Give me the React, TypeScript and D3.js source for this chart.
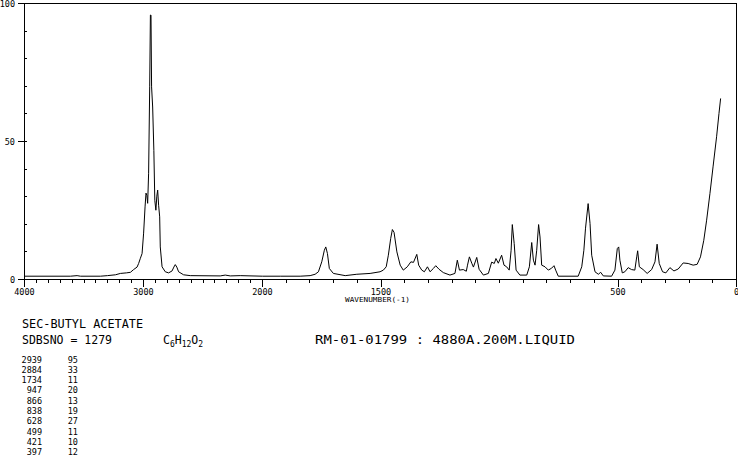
import React from 'react';
import * as d3 from 'd3';

// Raman spectrum
const wavenumbers = [
  4000, 3614, 3558, 3530, 3362, 3303, 3236, 3194, 3144, 3110, 3083, 3054, 3041, 3026, 3012,
  2999, 2987, 2979, 2972, 2965, 2957, 2948, 2942, 2937, 2932, 2923, 2913, 2905, 2896, 2888,
  2881, 2873, 2864, 2859, 2844, 2817, 2789, 2760, 2745, 2733, 2720, 2705, 2663, 2607, 2355,
  2313, 2271, 2187, 2000, 1925, 1841, 1799, 1778, 1764, 1750, 1739, 1733, 1726, 1718, 1701,
  1651, 1602, 1546, 1504, 1490, 1478, 1469, 1459, 1452, 1445, 1433, 1419, 1406, 1389, 1374,
  1363, 1349, 1341, 1328, 1317, 1304, 1293, 1279, 1269, 1255, 1237, 1209, 1188, 1178, 1169,
  1153, 1140, 1135, 1127, 1117, 1110, 1096, 1086, 1068, 1047, 1033, 1022, 1015, 1005, 991,
  981, 970, 959, 951, 946, 938, 930, 914, 885, 874, 864, 857, 850, 843, 835,
  829, 822, 808, 794, 780, 770, 763, 752, 668, 653, 644, 637, 626, 618, 611,
  597, 583, 573, 562, 527, 513, 503, 497, 492, 482, 471, 457, 443, 429, 421,
  417, 410, 394, 377, 358, 344, 335, 326, 312, 298, 281, 264, 246, 225, 204,
  183, 166, 152, 138, 126, 112, 99, 84, 74, 67,
];
const intensities = [
  1.2, 1.2, 1.4, 1.2, 1.2, 1.4, 1.7, 2.2, 2.4, 2.6, 3.6, 4.5, 5.8, 7.7, 9.4,
  16.8, 26.3, 31.3, 30.5, 27.6, 38.5, 69.8, 95.8, 95.8, 69.8, 62.5, 46.8, 28.7, 25.1, 30.2,
  32.4, 26.9, 22.7, 11.8, 4.6, 2.8, 2.4, 3.1, 4.5, 5.4, 4.5, 2.8, 1.7, 1.4, 1.3,
  1.6, 1.3, 1.4, 1.2, 1.2, 1.2, 1.4, 1.9, 2.8, 6.4, 10.6, 11.8, 9.4, 4.0, 2.2,
  1.4, 1.9, 2.2, 2.8, 3.4, 4.6, 8.8, 14.9, 18.1, 17.1, 10.0, 5.2, 3.4, 4.6, 6.4,
  6.2, 9.1, 5.2, 3.4, 2.8, 4.6, 2.8, 4.0, 5.0, 3.7, 2.5, 1.6, 2.2, 7.0, 3.4,
  3.6, 3.0, 5.2, 8.2, 5.9, 4.5, 8.0, 3.7, 1.6, 2.2, 6.3, 5.8, 7.6, 5.9, 8.8,
  5.2, 4.6, 3.4, 10.6, 19.9, 13.0, 3.4, 1.6, 1.6, 4.6, 13.4, 7.0, 5.2, 10.6, 19.9,
  15.4, 5.2, 4.6, 3.4, 4.1, 5.0, 3.4, 1.2, 1.2, 4.6, 10.6, 18.6, 27.5, 20.3, 8.8,
  2.8, 1.9, 2.6, 1.3, 1.2, 3.4, 11.2, 11.8, 7.0, 2.4, 2.8, 4.3, 3.6, 3.4, 8.2,
  10.4, 4.6, 3.6, 2.2, 3.6, 6.4, 12.8, 5.8, 2.8, 2.4, 4.3, 3.1, 3.8, 6.0, 5.8,
  5.2, 5.5, 8.2, 14.2, 21.5, 31.2, 40.8, 51.7, 60.1, 65.6,
];

const xMajor = [4000, 3000, 2000, 1500, 500, 0];
const xMinor = d3.range(0, 4001, 100);
const yMajor = [0, 50, 100];
const yMinor = d3.range(0, 101, 10);

const peakWavenumbers = ['2939', '2884', '1734', '947', '866', '838', '628', '499', '421', '397'];
const peakIntensities = ['95', '33', '11', '20', '13', '19', '27', '11', '10', '12'];

const W = 738;
const H = 457;
const mono = "'DejaVu Sans Mono', monospace";

const App: React.FC = () => {
  // the x axis is compressed by half above 2000
  const x = d3.scaleLinear().domain([4000, 2000, 0]).range([24.5, 262.5, 736.5]);
  const y = d3.scaleLinear().domain([0, 100]).range([279.5, 3.5]);

  const line = d3.line<number>()
    .x((_, i) => x(wavenumbers[i]))
    .y((d) => y(d));

  const [x0, x1] = [x(4000), x(0)];
  const [y0, y1] = [y(0), y(100)];

  return (
    <svg width={W} height={H} style={{ position: 'absolute', left: 0, top: 0, background: '#fff' }}>
      <rect x={0} y={0} width={W} height={H} fill="#fff" />

      {/* frame */}
      <path d={`M${x0},${y0}H${x1}V${y1}H${x0}Z`} fill="none" stroke="#000" strokeWidth={1} shapeRendering="crispEdges" />

      {/* x ticks */}
      {xMinor.map((v) => (
        <line key={'xm' + v} x1={x(v)} x2={x(v)} y1={y0} y2={y0 + 3} stroke="#000" shapeRendering="crispEdges" />
      ))}
      {xMajor.map((v) => (
        <line key={'xM' + v} x1={x(v)} x2={x(v)} y1={y0} y2={y0 + 7} stroke="#000" shapeRendering="crispEdges" />
      ))}
      {xMajor.map((v) => (
        <text key={'xl' + v} x={x(v)} y={294.5} textAnchor="middle" fontFamily={mono} fontSize={8.5}>{v}</text>
      ))}
      <text x={345} y={302} fontFamily={mono} fontSize={7} textLength={65} lengthAdjust="spacingAndGlyphs">WAVENUMBER(-1)</text>

      {/* y ticks */}
      {yMinor.map((v) => (
        <line key={'ym' + v} x1={x0} x2={x0 + 2.5} y1={y(v)} y2={y(v)} stroke="#000" shapeRendering="crispEdges" />
      ))}
      {yMajor.map((v) => (
        <line key={'yM' + v} x1={x0 - 7} x2={x0} y1={y(v)} y2={y(v)} stroke="#000" shapeRendering="crispEdges" />
      ))}
      {yMajor.map((v) => (
        <text key={'yl' + v} x={15} y={y(v) + 3} textAnchor="end" fontFamily={mono} fontSize={8.5}>{v}</text>
      ))}

      {/* spectrum */}
      <path d={line(intensities) || ''} fill="none" stroke="#000" strokeWidth={1} />

      {/* header text */}
      <text x={22} y={328} fontFamily={mono} fontSize={11.5} textLength={121} lengthAdjust="spacingAndGlyphs">SEC-BUTYL ACETATE</text>
      <text x={22} y={344} fontFamily={mono} fontSize={11.5} textLength={90} lengthAdjust="spacingAndGlyphs">SDBSNO = 1279</text>
      <text x={163} y={344} fontFamily={mono} fontSize={11.5}>
        C<tspan fontSize={8} dy={3}>6</tspan>
        <tspan dy={-3}>H</tspan><tspan fontSize={8} dy={3}>12</tspan>
        <tspan dy={-3}>O</tspan><tspan fontSize={8} dy={3}>2</tspan>
      </text>
      <text x={315} y={344} fontFamily={mono} fontSize={11.5} textLength={260} lengthAdjust="spacingAndGlyphs">RM-01-01799 : 4880A.200M.LIQUID</text>

      {/* peak table */}
      {peakWavenumbers.map((p, i) => (
        <g key={'pk' + i}>
          <text x={42} y={362.5 + i * 10.3} textAnchor="end" fontFamily={mono} fontSize={8.5}>{p}</text>
          <text x={78} y={362.5 + i * 10.3} textAnchor="end" fontFamily={mono} fontSize={8.5}>{peakIntensities[i]}</text>
        </g>
      ))}
    </svg>
  );
};

export default App;
